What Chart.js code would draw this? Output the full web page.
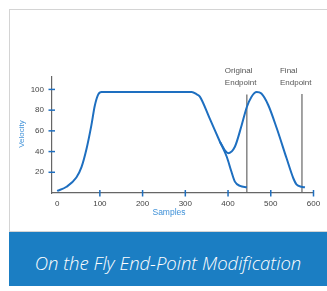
<!DOCTYPE html>
<html>
<head>
<meta charset="utf-8">
<script src="https://cdn.jsdelivr.net/npm/chart.js@4.4.0/dist/chart.umd.min.js"></script>
<style>
  html, body { margin: 0; padding: 0; background: #fff; overflow: hidden; }
  #wrap { position: relative; width: 327px; height: 291px; }
  .card { position: absolute; left: 9px; top: 9px; width: 330px; height: 221px;
          border: 1px solid #d4d4d4; border-right: none; background: #fff; }
  .banner { position: absolute; left: 9px; top: 232px; width: 318px; height: 54px;
            background: #1b7ec3; color: #fff; text-align: center; white-space: nowrap;
            font-family: "Open Sans", sans-serif; font-style: italic; font-weight: 300;
            font-size: 18.5px; line-height: 54px; }
  .banner span { position: relative; top: 4px; }
  #chart { position: absolute; left: 0; top: 0; }
</style>
</head>
<body>
<div id="wrap">
  <div class="card"></div>
  <canvas id="chart" width="327" height="232"></canvas>
  <div class="banner"><span>On the Fly End-Point Modification</span></div>
</div>
<script>
// original move profile (samples, velocity)
const originalX = [0, 22, 45, 57, 69, 80, 88, 96, 104, 315, 326, 334, 357, 381, 397, 408, 416, 428, 444];
const originalY = [2, 6, 15, 25, 43, 65, 84, 95, 97.5, 97.5, 95.5, 93, 72, 49.5, 35, 20.5, 11, 6.8, 5.5];

// modified profile after the on-the-fly endpoint change
const modifiedX = [381, 393, 400, 416, 432, 444, 455, 467, 478, 494, 514, 537, 553, 560, 572, 580];
const modifiedY = [49.5, 41, 38.5, 44.7, 65.7, 83, 93, 97.5, 96, 85, 62.5, 33.5, 14, 8.4, 6, 5.5];

const endpointLabels = [['Original', 'Endpoint'], ['Final', 'Endpoint']];
const endpointX = [444, 573];
const endpointTop = [95, 95.5];

const xTicks = [0, 100, 200, 300, 400, 500, 600];
const yTicks = [20, 40, 60, 80, 100];

const lineBlue = '#1e6fc0';
const titleBlue = '#3f91d8';
const tickFont = { family: 'Liberation Sans, Arial, sans-serif', size: 8 };

function pts(xs, ys) {
    return xs.map((x, i) => ({ x: x, y: ys[i] }));
}

const datasets = [
    { data: pts(originalX, originalY), borderColor: lineBlue, borderWidth: 2, cubicInterpolationMode: 'monotone' },
    { data: pts(modifiedX, modifiedY), borderColor: lineBlue, borderWidth: 2, cubicInterpolationMode: 'monotone' }
];
endpointX.forEach((x, i) => {
    datasets.push({ data: [{ x: x, y: 0 }, { x: x, y: endpointTop[i] }], borderColor: '#666', borderWidth: 1.2 });
});

// cross tick marks, axis titles and endpoint notes
const extras = {
    id: 'extras',
    afterDraw(c) {
        const ctx = c.ctx, xs = c.scales.x, ys = c.scales.y;
        const x0 = xs.left, y0 = ys.bottom;
        ctx.save();
        ctx.strokeStyle = lineBlue;
        ctx.lineWidth = 1.5;
        xTicks.slice(1).forEach(v => {
            const px = xs.getPixelForValue(v);
            ctx.beginPath(); ctx.moveTo(px, y0 - 3); ctx.lineTo(px, y0 + 3.5); ctx.stroke();
        });
        yTicks.forEach(v => {
            const py = ys.getPixelForValue(v);
            ctx.beginPath(); ctx.moveTo(x0 - 3.5, py); ctx.lineTo(x0 + 3, py); ctx.stroke();
        });

        ctx.fillStyle = titleBlue;
        ctx.font = '8.5px "Liberation Sans", Arial, sans-serif';
        ctx.textAlign = 'center';
        ctx.textBaseline = 'middle';
        ctx.fillText('Samples', 169, 213);
        ctx.translate(22, 134);
        ctx.rotate(-Math.PI / 2);
        ctx.font = '8px "Liberation Sans", Arial, sans-serif';
        ctx.fillText('Velocity', 0, 0);
        ctx.setTransform(1, 0, 0, 1, 0, 0);

        ctx.fillStyle = '#555';
        ctx.font = '8px "Liberation Sans", Arial, sans-serif';
        ctx.textAlign = 'left';
        endpointX.forEach((x, i) => {
            const px = xs.getPixelForValue(x) - 22;
            endpointLabels[i].forEach((t, j) => ctx.fillText(t, px, 71 + j * 11.5));
        });
        ctx.restore();
    }
};

new Chart(document.getElementById('chart'), {
    type: 'line',
    data: { datasets: datasets },
    options: {
        responsive: false,
        animation: false,
        events: [],
        elements: { point: { radius: 0 } },
        layout: { padding: { left: 0, top: 77, right: 13.5, bottom: 19 } },
        plugins: { legend: { display: false }, tooltip: { enabled: false } },
        scales: {
            x: {
                type: 'linear', min: -12, max: 600,
                afterBuildTicks: s => { s.ticks = xTicks.map(v => ({ value: v })); },
                afterFit: s => { s.height = 20; },
                grid: { display: false, drawTicks: false },
                border: { display: true, color: '#666', width: 1.2 },
                ticks: { color: '#444', font: tickFont, padding: 6, maxRotation: 0 }
            },
            y: {
                min: 0, max: 112,
                afterBuildTicks: s => { s.ticks = yTicks.map(v => ({ value: v })); },
                afterFit: s => { s.width = 52; },
                grid: { display: false, drawTicks: false },
                border: { display: true, color: '#666', width: 1.2 },
                ticks: { color: '#444', font: tickFont, padding: 8 }
            }
        }
    },
    plugins: [extras]
});
</script>
</body>
</html>
